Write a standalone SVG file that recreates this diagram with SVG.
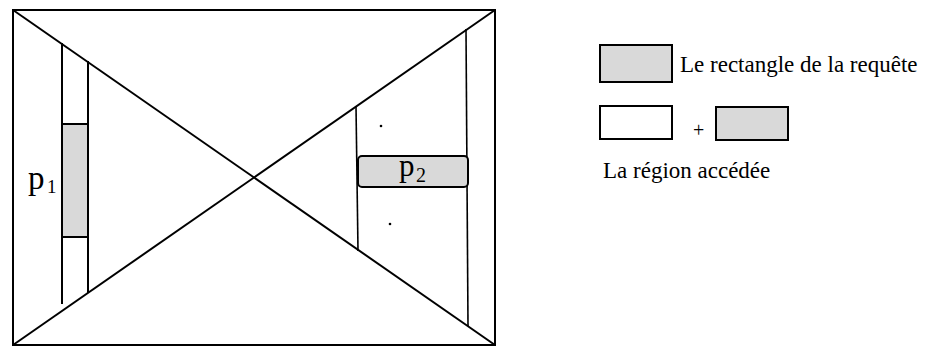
<svg xmlns="http://www.w3.org/2000/svg" width="927" height="347" viewBox="0 0 927 347">
<style>
.ln{stroke:#000;stroke-width:2;fill:none}
.thin{stroke:#000;stroke-width:1.6;fill:none}
.gray{fill:#d9d9d9;stroke:#000;stroke-width:2}
.white{fill:#fff;stroke:#000;stroke-width:2}
.t{fill:#000}
</style>
<rect width="927" height="347" fill="#fff"/>
<g id="frame">
<rect x="13" y="10" width="482" height="335" class="ln"/>
</g>
<g id="connectors">
<line x1="13" y1="10" x2="495" y2="345" class="ln"/>
<line x1="13" y1="345" x2="495" y2="10" class="ln"/>
<line x1="62" y1="43" x2="62" y2="304" class="ln"/>
<line x1="88" y1="61" x2="88" y2="293" class="ln"/>
<line x1="356" y1="106" x2="358" y2="251" class="thin"/>
<line x1="466" y1="29" x2="468" y2="326" class="thin"/>
</g>
<g id="p1" font-family="'Liberation Serif', 'Times New Roman', serif">
<rect x="62" y="124" width="26" height="113" class="gray" stroke-width="1.6"/>
<text x="28" y="189" class="t" font-size="33">p</text>
<text x="47" y="193" class="t" font-size="19">1</text>
</g>
<g id="p2" font-family="'Liberation Serif', 'Times New Roman', serif">
<rect x="358" y="156" width="110" height="31" rx="4" class="gray" stroke-width="1.6"/>
<text x="399" y="176" class="t" font-size="31">p</text>
<text x="416" y="182" class="t" font-size="20">2</text>
</g>
<g id="dots">
<circle cx="381" cy="126" r="1.3" fill="#000"/>
<circle cx="390" cy="224" r="1.3" fill="#000"/>
</g>
<g id="legend-query" font-family="'Liberation Serif', 'Times New Roman', serif">
<rect x="600" y="45" width="72" height="37" class="gray"/>
<text x="680" y="72" class="t" font-size="23">Le rectangle de la requête</text>
</g>
<g id="legend-region" font-family="'Liberation Serif', 'Times New Roman', serif">
<rect x="600" y="106" width="72" height="33" class="white"/>
<text x="693" y="137" class="t" font-size="20">+</text>
<rect x="716" y="107" width="72" height="33" class="gray"/>
<text x="603" y="178" class="t" font-size="23">La région accédée</text>
</g>
</svg>
